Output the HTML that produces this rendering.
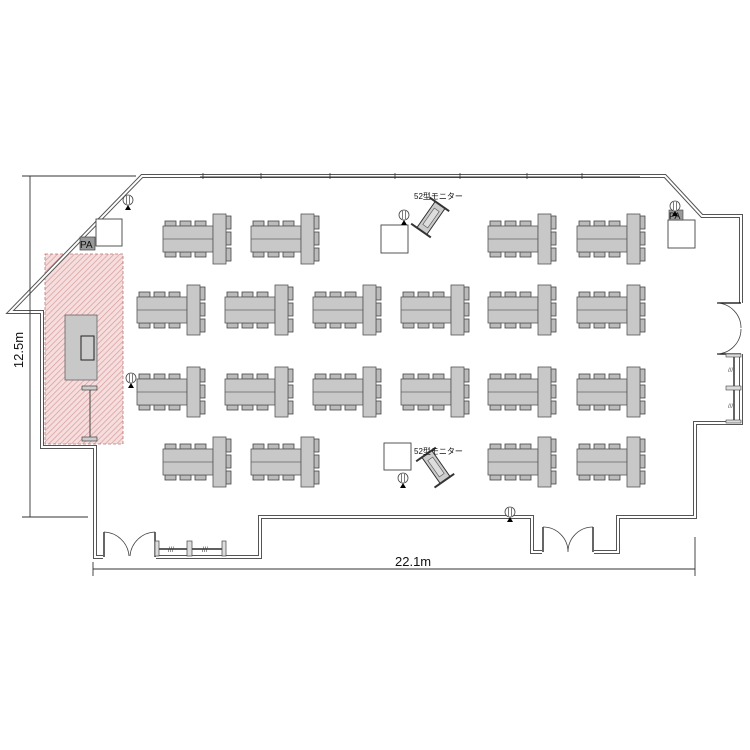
<!DOCTYPE html>
<html><head><meta charset="utf-8"><style>html,body{margin:0;padding:0;background:#fff}svg{display:block}</style></head>
<body>
<svg width="750" height="750" viewBox="0 0 750 750" xmlns="http://www.w3.org/2000/svg" font-family="Liberation Sans, Noto Sans CJK JP, sans-serif">
<defs>
<pattern id="h" width="4" height="4" patternUnits="userSpaceOnUse" patternTransform="rotate(45)">
<rect width="4" height="4" fill="#f6dede"/><line x1="0" y1="0" x2="0" y2="4" stroke="#d79a9a" stroke-width="1.4"/></pattern>
<g id="c"><rect width="11" height="5" fill="#bbb" stroke="#444" stroke-width="0.8"/></g>
<g id="cr"><rect width="5" height="13" fill="#bbb" stroke="#444" stroke-width="0.8"/></g>
<g id="u">
<use href="#c" x="2" y="7"/><use href="#c" x="17" y="7"/><use href="#c" x="32" y="7"/>
<use href="#c" x="2" y="38"/><use href="#c" x="17" y="38"/><use href="#c" x="32" y="38"/>
<rect x="0" y="12" width="50" height="26" fill="#c8c8c8" stroke="#555" stroke-width="0.8"/>
<line x1="0" y1="25" x2="50" y2="25" stroke="#666" stroke-width="0.7"/>
<use href="#cr" x="63" y="2"/><use href="#cr" x="63" y="18"/><use href="#cr" x="63" y="34"/>
<rect x="50" y="0" width="13" height="50" fill="#c8c8c8" stroke="#555" stroke-width="0.8"/>
</g>
<g id="mic"><circle cx="0" cy="0" r="5" fill="#fff" stroke="#444" stroke-width="0.8"/><line x1="-1.5" y1="-4" x2="-1.5" y2="4" stroke="#444" stroke-width="0.7"/><line x1="1.5" y1="-4" x2="1.5" y2="4" stroke="#444" stroke-width="0.7"/><polygon points="-3,10 3,10 0,5" fill="#000"/></g>
<g id="mon"><rect x="-6" y="-16" width="12" height="32" fill="#ccc" stroke="#333" stroke-width="1"/><rect x="-3" y="-10" width="6" height="20" fill="#ddd" stroke="#555" stroke-width="0.6"/><line x1="-13" y1="-16" x2="11" y2="-16" stroke="#333" stroke-width="2"/><line x1="-13" y1="16" x2="11" y2="16" stroke="#333" stroke-width="2"/></g>
</defs>

<!-- stage -->
<rect x="45" y="254" width="78" height="190" fill="url(#h)" stroke="#b77" stroke-width="0.8" stroke-dasharray="3,2"/>
<rect x="65" y="315" width="32" height="65" fill="#c8c8c8" stroke="#666" stroke-width="0.8"/>
<rect x="81" y="336" width="13" height="24" fill="#ccc" stroke="#222" stroke-width="1"/>
<line x1="90" y1="388" x2="90" y2="440" stroke="#444" stroke-width="1"/>
<rect x="82" y="386" width="15" height="4" fill="#ccc" stroke="#444" stroke-width="0.7"/>
<rect x="82" y="437" width="15" height="4" fill="#ccc" stroke="#444" stroke-width="0.7"/>

<!-- walls -->
<g fill="none" stroke-linejoin="miter">
<path d="M665,176 L142,176 L10,312 L42,312 L42,447 L95,447 L95,557 L260,557 L260,517 L532,517 L532,552 L618,552 L618,517 L695,517 L695,423 L741,423 L741,216 L702,216 Z" stroke="#555" stroke-width="4"/>
<path d="M665,176 L142,176 L10,312 L42,312 L42,447 L95,447 L95,557 L260,557 L260,517 L532,517 L532,552 L618,552 L618,517 L695,517 L695,423 L741,423 L741,216 L702,216 Z" stroke="#fff" stroke-width="2"/>
</g>
<line x1="200" y1="177" x2="640" y2="177" stroke="#333" stroke-width="1"/>
<g stroke="#333" stroke-width="0.8"><line x1="203" y1="173" x2="203" y2="179"/><line x1="261" y1="173" x2="261" y2="179"/><line x1="330" y1="173" x2="330" y2="179"/><line x1="395" y1="173" x2="395" y2="179"/><line x1="460" y1="173" x2="460" y2="179"/><line x1="527" y1="173" x2="527" y2="179"/><line x1="582" y1="173" x2="582" y2="179"/></g>
<!-- doors bottom left -->
<rect x="103" y="553" width="53" height="6" fill="#fff"/>
<line x1="104" y1="532" x2="104" y2="557" stroke="#000" stroke-width="1.2"/>
<line x1="155" y1="532" x2="155" y2="557" stroke="#000" stroke-width="1.2"/>
<path d="M104,532 A26,26 0 0 1 129,556 M155,532 A26,26 0 0 0 130,556" fill="none" stroke="#444" stroke-width="0.8"/>
<line x1="156" y1="549" x2="225" y2="549" stroke="#000" stroke-width="1.2"/>
<g fill="#ddd" stroke="#444" stroke-width="0.7"><rect x="155" y="541" width="4" height="15"/><rect x="187" y="541" width="5" height="15"/><rect x="222" y="541" width="4" height="15"/></g>
<text x="168" y="552" font-size="7" fill="#444">///</text><text x="202" y="552" font-size="7" fill="#444">///</text>
<!-- bottom doors -->
<rect x="542" y="548" width="52" height="7" fill="#fff"/>
<line x1="543" y1="527" x2="543" y2="552" stroke="#000" stroke-width="1.2"/>
<line x1="593" y1="527" x2="593" y2="552" stroke="#000" stroke-width="1.2"/>
<path d="M543,527 A25,25 0 0 1 568,552 M593,527 A25,25 0 0 0 568,552" fill="none" stroke="#444" stroke-width="0.8"/>
<!-- right door -->
<rect x="738" y="303" width="6" height="51" fill="#fff"/>
<line x1="717" y1="303" x2="741" y2="303" stroke="#000" stroke-width="1.2"/>
<line x1="717" y1="354" x2="741" y2="354" stroke="#000" stroke-width="1.2"/>
<path d="M717,303 A25,25 0 0 1 741,328 M717,354 A25,25 0 0 0 741,329" fill="none" stroke="#444" stroke-width="0.8"/>
<line x1="734" y1="354" x2="734" y2="423" stroke="#000" stroke-width="1.2"/>
<rect x="726" y="354" width="15" height="3" fill="#ddd" stroke="#444" stroke-width="0.6"/>
<rect x="726" y="386" width="15" height="4" fill="#ddd" stroke="#444" stroke-width="0.6"/>
<rect x="726" y="420" width="15" height="3" fill="#ddd" stroke="#444" stroke-width="0.6"/>
<text x="728" y="372" font-size="6" fill="#444">///</text><text x="728" y="408" font-size="6" fill="#444">///</text>

<!-- dimensions -->
<g stroke="#333" stroke-width="0.9">
<line x1="30" y1="176" x2="30" y2="517"/><line x1="22" y1="176" x2="136" y2="176"/><line x1="22" y1="517" x2="88" y2="517"/>
<line x1="93" y1="569" x2="695" y2="569"/><line x1="93" y1="562" x2="93" y2="576"/><line x1="695" y1="537" x2="695" y2="576"/>
</g>
<text x="395" y="566" font-size="13" fill="#111">22.1m</text>
<text transform="translate(23,350) rotate(-90)" font-size="13" fill="#111" text-anchor="middle">12.5m</text>

<!-- tables -->
<use href="#u" x="163" y="214"/><use href="#u" x="251" y="214"/><use href="#u" x="488" y="214"/><use href="#u" x="577" y="214"/>
<use href="#u" x="137" y="285"/><use href="#u" x="225" y="285"/><use href="#u" x="313" y="285"/><use href="#u" x="401" y="285"/><use href="#u" x="488" y="285"/><use href="#u" x="577" y="285"/>
<use href="#u" x="137" y="367"/><use href="#u" x="225" y="367"/><use href="#u" x="313" y="367"/><use href="#u" x="401" y="367"/><use href="#u" x="488" y="367"/><use href="#u" x="577" y="367"/>
<use href="#u" x="163" y="437"/><use href="#u" x="251" y="437"/><use href="#u" x="488" y="437"/><use href="#u" x="577" y="437"/>

<!-- boxes -->
<g fill="#fff" stroke="#444" stroke-width="0.9">
<rect x="96" y="219" width="26" height="27"/>
<rect x="381" y="225" width="27" height="28"/>
<rect x="384" y="443" width="27" height="27"/>
<rect x="668" y="220" width="27" height="28"/>
</g>
<rect x="80" y="237" width="15" height="13" fill="#999" stroke="#444" stroke-width="0.7"/>
<text x="80" y="248" font-size="10" fill="#111">PA</text>
<rect x="669" y="210" width="14" height="10" fill="#999" stroke="#444" stroke-width="0.6"/>
<text x="669" y="219" font-size="9" fill="#111">PA</text>

<use href="#mic" x="128" y="200"/>
<use href="#mic" x="404" y="215"/>
<use href="#mic" x="403" y="478"/>
<use href="#mic" x="131" y="378"/>
<use href="#mic" x="510" y="512"/>
<use href="#mic" x="675" y="206"/>

<use href="#mon" transform="translate(431,218) rotate(35)"/>
<use href="#mon" transform="translate(436,467) rotate(-35)"/>
<text x="414" y="199" font-size="8" fill="#111">52型モニター</text>
<text x="414" y="454" font-size="8" fill="#111">52型モニター</text>
</svg>
</body></html>
